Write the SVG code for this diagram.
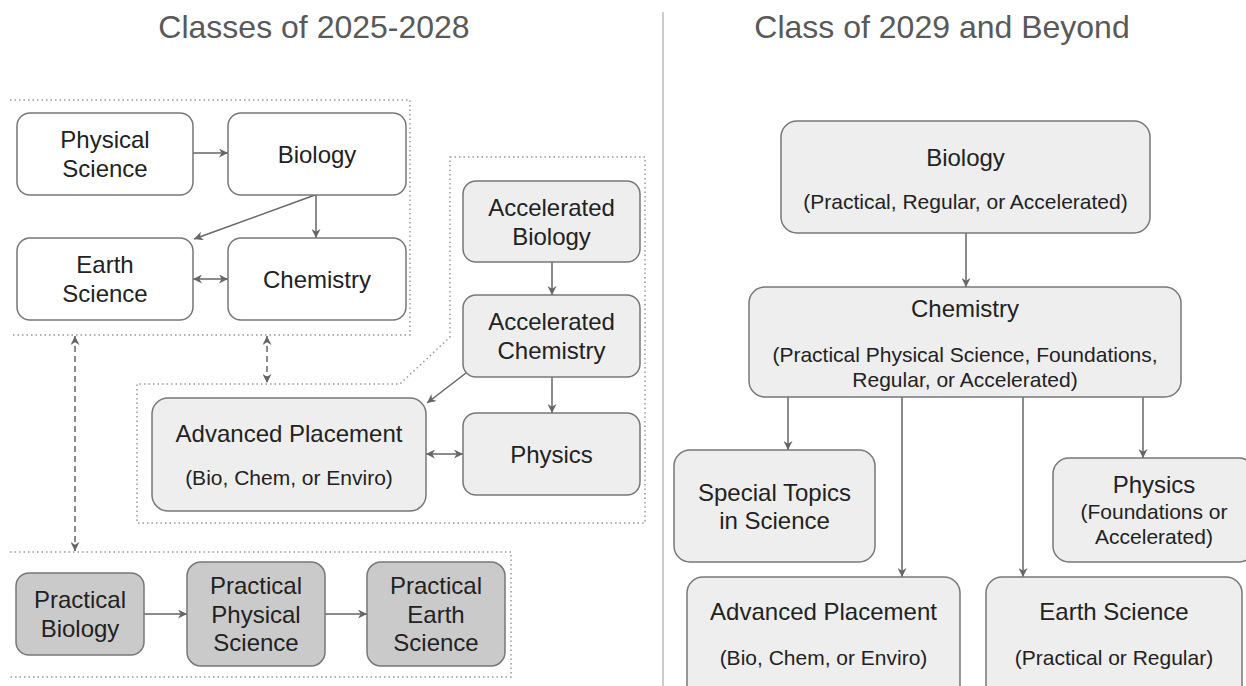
<svg xmlns="http://www.w3.org/2000/svg" width="1246" height="686" viewBox="0 0 1246 686">
<style>
text{font-family:"Liberation Sans",Arial,sans-serif;fill:#222;text-anchor:middle}
.title{font-size:32px;fill:#595959}
.m{font-size:24px}
.s{font-size:21px}
.box{stroke:#777;stroke-width:1.5}
.w{fill:#fff}
.g{fill:#eeeeee}
.d{fill:#cacaca}
.grp{fill:none;stroke:#999;stroke-width:1.5;stroke-dasharray:1.5 3}
.c{fill:none;stroke:#666;stroke-width:1.5}
.dash{stroke-dasharray:6 4}
</style>
<defs>
<marker id="ah" viewBox="0 0 10 10" refX="10" refY="5" markerWidth="10" markerHeight="9" markerUnits="userSpaceOnUse" orient="auto-start-reverse">
<path d="M0,0 L10,5 L0,10 L3,5 z" fill="#666"/>
</marker>
</defs>
<rect width="1246" height="686" fill="#fff"/>
<text class="title" x="314" y="38">Classes of 2025-2028</text>
<text class="title" x="942" y="38">Class of 2029 and Beyond</text>
<line x1="663" y1="12" x2="663" y2="686" stroke="#cccccc" stroke-width="2"/>
<g id="groups">
<path class="grp" d="M10,100 H410 V335 H10"/>
<path class="grp" d="M450,157 H645 V523 H137 V384 H400 L450,337 Z"/>
<path class="grp" d="M10,552 H511 V677 H10"/>
</g>
<g id="connectors">
<path class="c" d="M193,153 L228,153" marker-end="url(#ah)"/>
<path class="c" d="M316,195 L316,238" marker-end="url(#ah)"/>
<path class="c" d="M315,195 L194,239" marker-end="url(#ah)"/>
<path class="c" d="M193,279 L228,279" marker-start="url(#ah)" marker-end="url(#ah)"/>
<path class="c" d="M552,262 L552,295" marker-end="url(#ah)"/>
<path class="c" d="M552,377 L552,413" marker-end="url(#ah)"/>
<path class="c" d="M466,373 L427,403" marker-end="url(#ah)"/>
<path class="c" d="M426,454 L463,454" marker-start="url(#ah)" marker-end="url(#ah)"/>
<path class="c dash" d="M75,336 L75,551" marker-start="url(#ah)" marker-end="url(#ah)"/>
<path class="c dash" d="M267,336 L267,383" marker-start="url(#ah)" marker-end="url(#ah)"/>
<path class="c" d="M144,614 L187,614" marker-end="url(#ah)"/>
<path class="c" d="M325,614 L367,614" marker-end="url(#ah)"/>
<path class="c" d="M966,233 L966,287" marker-end="url(#ah)"/>
<path class="c" d="M788,397 L788,450" marker-end="url(#ah)"/>
<path class="c" d="M902,397 L902,577" marker-end="url(#ah)"/>
<path class="c" d="M1023,397 L1023,577" marker-end="url(#ah)"/>
<path class="c" d="M1143,397 L1143,458" marker-end="url(#ah)"/>
</g>
<g id="physical-science">
<rect class="box w" x="17" y="113" width="176" height="82" rx="13"/>
<text class="m" x="105" y="148">Physical</text>
<text class="m" x="105" y="177">Science</text>
</g>
<g id="biology">
<rect class="box w" x="228" y="113" width="178" height="82" rx="13"/>
<text class="m" x="317" y="163">Biology</text>
</g>
<g id="earth-science">
<rect class="box w" x="17" y="238" width="176" height="82" rx="13"/>
<text class="m" x="105" y="273">Earth</text>
<text class="m" x="105" y="302">Science</text>
</g>
<g id="chemistry">
<rect class="box w" x="228" y="238" width="178" height="82" rx="13"/>
<text class="m" x="317" y="288">Chemistry</text>
</g>
<g id="accelerated-biology">
<rect class="box g" x="463" y="181" width="177" height="81" rx="13"/>
<text class="m" x="551.5" y="216">Accelerated</text>
<text class="m" x="551.5" y="245">Biology</text>
</g>
<g id="accelerated-chemistry">
<rect class="box g" x="463" y="295" width="177" height="82" rx="13"/>
<text class="m" x="551.5" y="330">Accelerated</text>
<text class="m" x="551.5" y="359">Chemistry</text>
</g>
<g id="physics">
<rect class="box g" x="463" y="413" width="177" height="82" rx="13"/>
<text class="m" x="551.5" y="463">Physics</text>
</g>
<g id="advanced-placement">
<rect class="box g" x="152" y="398" width="274" height="113" rx="16"/>
<text class="m" x="289" y="442">Advanced Placement</text>
<text class="s" x="289" y="485">(Bio, Chem, or Enviro)</text>
</g>
<g id="practical-biology">
<rect class="box d" x="16" y="573" width="128" height="82" rx="13"/>
<text class="m" x="80" y="608">Practical</text>
<text class="m" x="80" y="637">Biology</text>
</g>
<g id="practical-physical-science">
<rect class="box d" x="187" y="562" width="138" height="104" rx="14"/>
<text class="m" x="256" y="594">Practical</text>
<text class="m" x="256" y="622.5">Physical</text>
<text class="m" x="256" y="651">Science</text>
</g>
<g id="practical-earth-science">
<rect class="box d" x="367" y="562" width="138" height="104" rx="14"/>
<text class="m" x="436" y="594">Practical</text>
<text class="m" x="436" y="622.5">Earth</text>
<text class="m" x="436" y="651">Science</text>
</g>
<g id="r-biology">
<rect class="box g" x="781" y="121" width="369" height="112" rx="16"/>
<text class="m" x="965.5" y="166">Biology</text>
<text class="s" x="965.5" y="209">(Practical, Regular, or Accelerated)</text>
</g>
<g id="r-chemistry">
<rect class="box g" x="749" y="287" width="432" height="110" rx="16"/>
<text class="m" x="965" y="317">Chemistry</text>
<text class="s" x="965" y="362">(Practical Physical Science, Foundations,</text>
<text class="s" x="965" y="387">Regular, or Accelerated)</text>
</g>
<g id="r-special-topics">
<rect class="box g" x="674" y="450" width="201" height="112" rx="16"/>
<text class="m" x="774.5" y="501">Special Topics</text>
<text class="m" x="774.5" y="529">in Science</text>
</g>
<g id="r-physics">
<rect class="box g" x="1053" y="458" width="202" height="104" rx="16"/>
<text class="m" x="1154" y="493">Physics</text>
<text class="s" x="1154" y="519">(Foundations or</text>
<text class="s" x="1154" y="544">Accelerated)</text>
</g>
<g id="r-advanced-placement">
<rect class="box g" x="687" y="577" width="273" height="130" rx="16"/>
<text class="m" x="823.5" y="620">Advanced Placement</text>
<text class="s" x="823.5" y="665">(Bio, Chem, or Enviro)</text>
</g>
<g id="r-earth-science">
<rect class="box g" x="986" y="577" width="256" height="130" rx="16"/>
<text class="m" x="1114" y="620">Earth Science</text>
<text class="s" x="1114" y="665">(Practical or Regular)</text>
</g>
</svg>
